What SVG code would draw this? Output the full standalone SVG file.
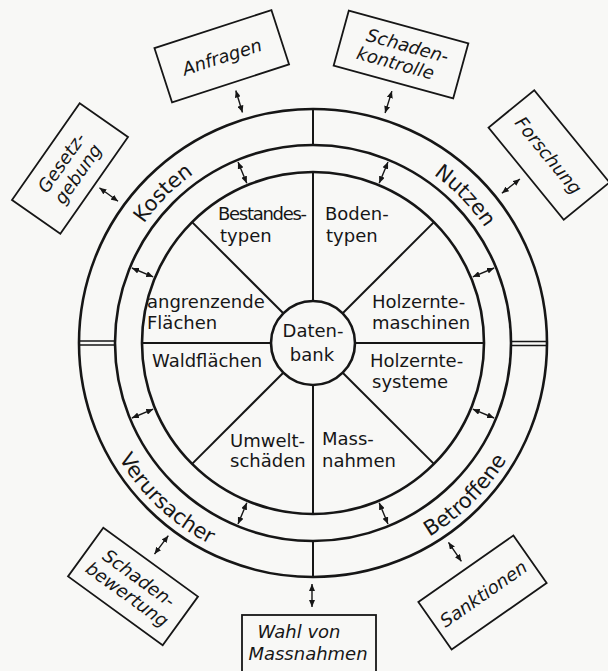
<svg xmlns="http://www.w3.org/2000/svg" width="608" height="671" viewBox="0 0 608 671">
<style>
.c{fill:none;stroke:#161616;stroke-width:2.6}
.l{fill:none;stroke:#161616;stroke-width:2}
.d{fill:none;stroke:#161616;stroke-width:1.4}
.a{fill:none;stroke:#161616;stroke-width:1.4;marker-start:url(#h);marker-end:url(#h)}
.b{fill:none;stroke:#161616;stroke-width:1.8}
.t{font-family:"DejaVu Sans",sans-serif;font-size:18px;fill:#161616}
.r{font-family:"DejaVu Sans",sans-serif;font-size:21px;fill:#161616}
.i{font-family:"DejaVu Sans",sans-serif;font-size:18px;font-style:italic;fill:#161616;text-anchor:middle}
</style>
<defs>
<marker id="h" markerUnits="userSpaceOnUse" markerWidth="7" markerHeight="6" refX="7" refY="3" orient="auto-start-reverse">
<path d="M0,0 L7,3 L0,6 z" fill="#161616"/>
</marker>
<path id="pK" d="M106,343 A207,207 0 0 1 313,136"/>
<path id="pN" d="M313,136 A207,207 0 0 1 520,343"/>
<path id="pV" d="M87,343 A226,226 0 0 0 313,569"/>
<path id="pB" d="M313,569 A226,226 0 0 0 539,343"/>
</defs>
<rect width="608" height="671" fill="#f8f8f6"/>

<g id="wheel">
<circle class="c" cx="313" cy="343" r="234"/>
<circle class="c" cx="313" cy="343" r="198"/>
<circle class="c" cx="313" cy="343" r="171"/>
<line class="l" x1="313" y1="109" x2="313" y2="145"/>
<line class="l" x1="313" y1="541" x2="313" y2="577"/>
<line class="d" x1="79" y1="341" x2="115" y2="341"/>
<line class="d" x1="79" y1="345" x2="115" y2="345"/>
<line class="d" x1="511" y1="341.5" x2="546" y2="341.5"/>
<line class="d" x1="511" y1="345.5" x2="546" y2="345.5"/>
<line class="l" x1="313" y1="172" x2="313" y2="301"/>
<line class="l" x1="313" y1="385" x2="313" y2="514"/>
<line class="l" x1="142" y1="343" x2="271" y2="343"/>
<line class="l" x1="355" y1="343" x2="484" y2="343"/>
<line class="l" x1="283.3" y1="313.3" x2="192.1" y2="222.1"/>
<line class="l" x1="342.7" y1="313.3" x2="433.9" y2="222.1"/>
<line class="l" x1="283.3" y1="372.7" x2="192.1" y2="463.9"/>
<line class="l" x1="342.7" y1="372.7" x2="433.9" y2="463.9"/>
</g>

<g id="ring-labels">
<text class="r"><textPath href="#pK" startOffset="50%" text-anchor="middle">Kosten</textPath></text>
<text class="r"><textPath href="#pN" startOffset="51%" text-anchor="middle">Nutzen</textPath></text>
<text class="r"><textPath href="#pV" startOffset="52%" text-anchor="middle">Verursacher</textPath></text>
<text class="r"><textPath href="#pB" startOffset="50%" text-anchor="middle">Betroffene</textPath></text>
</g>

<g id="datenbank">
<circle class="c" cx="313" cy="343" r="42"/>
<text class="t" x="313" y="337" text-anchor="middle">Daten-</text>
<text class="t" x="312" y="361" text-anchor="middle">bank</text>
</g>
<g id="bestandestypen"><text class="t" x="218" y="220" textLength="89">Bestandes-</text><text class="t" x="220" y="242">typen</text></g>
<g id="bodentypen"><text class="t" x="325" y="220">Boden-</text><text class="t" x="326" y="242">typen</text></g>
<g id="angrenzende"><text class="t" x="147" y="308">angrenzende</text><text class="t" x="147" y="329">Flächen</text></g>
<g id="waldflaechen"><text class="t" x="152" y="367">Waldflächen</text></g>
<g id="holzerntemaschinen"><text class="t" x="372" y="308">Holzernte-</text><text class="t" x="372" y="329">maschinen</text></g>
<g id="holzerntesysteme"><text class="t" x="370" y="367">Holzernte-</text><text class="t" x="372" y="388">systeme</text></g>
<g id="umweltschaeden"><text class="t" x="230" y="447">Umwelt-</text><text class="t" x="230" y="467">schäden</text></g>
<g id="massnahmen"><text class="t" x="322" y="445">Mass-</text><text class="t" x="322" y="467">nahmen</text></g>

<g id="anfragen" transform="translate(221.75,56.25) rotate(-18)"><rect class="b" x="-61.5" y="-28.5" width="123" height="57"/><text class="i" x="0" y="7">Anfragen</text></g>
<g id="schadenkontrolle" transform="translate(401,54.5) rotate(15.4)"><rect class="b" x="-62" y="-28.5" width="124" height="57"/><text class="i" x="4" y="-4">Schaden-</text><text class="i" x="-3" y="16">kontrolle</text></g>
<g id="gesetzgebung" transform="translate(70,168.5) rotate(-55)"><rect class="b" x="-59" y="-29.5" width="118" height="59"/><text class="i" x="0" y="-4">Gesetz-</text><text class="i" x="0" y="16">gebung</text></g>
<g id="forschung" transform="translate(549,155) rotate(50.8)"><rect class="b" x="-59.5" y="-29.5" width="119" height="59"/><text class="i" x="0" y="7">Forschung</text></g>
<g id="schadenbewertung" transform="translate(133,586.5) rotate(36)"><rect class="b" x="-58.5" y="-30" width="117" height="60"/><text class="i" x="0" y="-4">Schaden-</text><text class="i" x="0" y="16">bewertung</text></g>
<g id="sanktionen" transform="translate(482.5,592.5) rotate(-35)"><rect class="b" x="-58" y="-29" width="116" height="58"/><text class="i" x="0" y="8">Sanktionen</text></g>
<g id="wahl"><rect class="b" x="242" y="615" width="134" height="64"/><text class="i" x="299" y="638">Wahl von</text><text class="i" x="308" y="660">Massnahmen</text></g>

<g id="connectors">
<line class="a" x1="246.8" y1="183.2" x2="238" y2="161.9"/>
<line class="a" x1="379.2" y1="183.2" x2="388" y2="161.9"/>
<line class="a" x1="472.8" y1="276.8" x2="494.1" y2="268"/>
<line class="a" x1="472.8" y1="409.2" x2="494.1" y2="418"/>
<line class="a" x1="379.2" y1="502.8" x2="388" y2="524.1"/>
<line class="a" x1="246.8" y1="502.8" x2="238" y2="524.1"/>
<line class="a" x1="153.2" y1="409.2" x2="131.9" y2="418"/>
<line class="a" x1="153.2" y1="276.8" x2="131.9" y2="268"/>
<line class="a" x1="242.5" y1="112.5" x2="235.8" y2="90.5"/>
<line class="a" x1="385.1" y1="113" x2="391.9" y2="91.1"/>
<line class="a" x1="118" y1="201.3" x2="99.4" y2="187.8"/>
<line class="a" x1="501.9" y1="193.3" x2="519.9" y2="179"/>
<line class="a" x1="448.5" y1="542.3" x2="461.4" y2="561.4"/>
<line class="a" x1="312" y1="584" x2="312" y2="607"/>
<line class="a" x1="168.3" y1="535.7" x2="154.5" y2="554.1"/>
</g>
</svg>
